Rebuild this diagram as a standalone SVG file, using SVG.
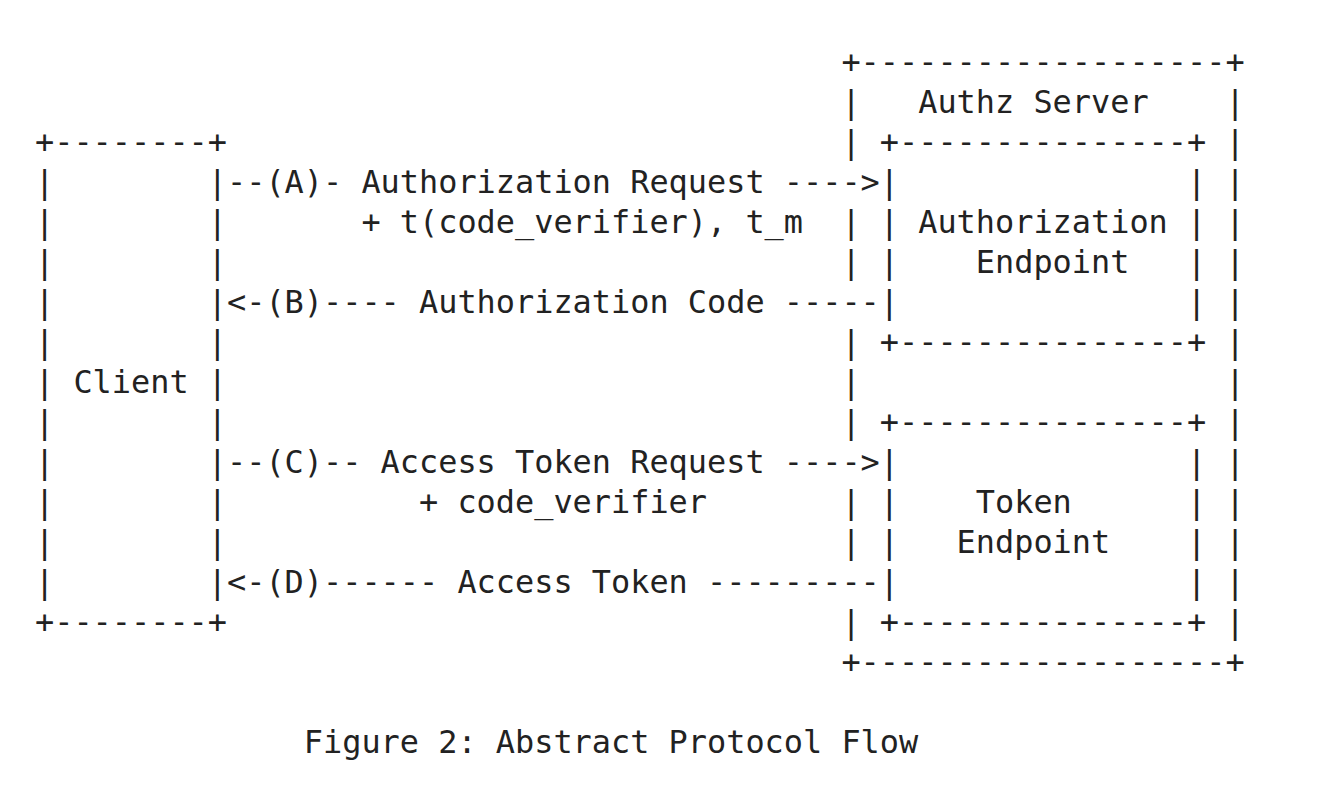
<svg xmlns="http://www.w3.org/2000/svg" width="1340" height="794" viewBox="0 0 1340 794">
<style>
.t{font-family:"DejaVu Sans Mono","Liberation Mono",monospace;font-size:31.9px;fill:#222}
</style>
<rect width="1340" height="794" fill="#fff"/>
<g id="client" class="t">
<text x="35" y="153">+--------+</text>
<text x="35" y="193">|</text><text x="207.8" y="193">|</text>
<text x="35" y="233">|</text><text x="207.8" y="233">|</text>
<text x="35" y="273">|</text><text x="207.8" y="273">|</text>
<text x="35" y="313">|</text><text x="207.8" y="313">|</text>
<text x="35" y="353">|</text><text x="207.8" y="353">|</text>
<text x="35" y="393">|</text><text x="73.4" y="393">Client</text><text x="207.8" y="393">|</text>
<text x="35" y="433">|</text><text x="207.8" y="433">|</text>
<text x="35" y="473">|</text><text x="207.8" y="473">|</text>
<text x="35" y="513">|</text><text x="207.8" y="513">|</text>
<text x="35" y="553">|</text><text x="207.8" y="553">|</text>
<text x="35" y="593">|</text><text x="207.8" y="593">|</text>
<text x="35" y="633">+--------+</text>
</g>
<g id="authz-server" class="t">
<text x="841.4" y="73">+-------------------+</text>
<text x="841.4" y="113">|</text><text x="918.2" y="113">Authz Server</text><text x="1225.4" y="113">|</text>
<text x="841.4" y="153">|</text><text x="1225.4" y="153">|</text>
<text x="1225.4" y="193">|</text>
<text x="841.4" y="233">|</text><text x="1225.4" y="233">|</text>
<text x="841.4" y="273">|</text><text x="1225.4" y="273">|</text>
<text x="1225.4" y="313">|</text>
<text x="841.4" y="353">|</text><text x="1225.4" y="353">|</text>
<text x="841.4" y="393">|</text><text x="1225.4" y="393">|</text>
<text x="841.4" y="433">|</text><text x="1225.4" y="433">|</text>
<text x="1225.4" y="473">|</text>
<text x="841.4" y="513">|</text><text x="1225.4" y="513">|</text>
<text x="841.4" y="553">|</text><text x="1225.4" y="553">|</text>
<text x="1225.4" y="593">|</text>
<text x="841.4" y="633">|</text><text x="1225.4" y="633">|</text>
<text x="841.4" y="673">+-------------------+</text>
</g>
<g id="authorization-endpoint" class="t">
<text x="879.8" y="153">+---------------+</text>
<text x="879.8" y="193">|</text><text x="1187" y="193">|</text>
<text x="879.8" y="233">|</text><text x="918.2" y="233">Authorization</text><text x="1187" y="233">|</text>
<text x="879.8" y="273">|</text><text x="975.8" y="273">Endpoint</text><text x="1187" y="273">|</text>
<text x="879.8" y="313">|</text><text x="1187" y="313">|</text>
<text x="879.8" y="353">+---------------+</text>
</g>
<g id="token-endpoint" class="t">
<text x="879.8" y="433">+---------------+</text>
<text x="879.8" y="473">|</text><text x="1187" y="473">|</text>
<text x="879.8" y="513">|</text><text x="975.8" y="513">Token</text><text x="1187" y="513">|</text>
<text x="879.8" y="553">|</text><text x="956.6" y="553">Endpoint</text><text x="1187" y="553">|</text>
<text x="879.8" y="593">|</text><text x="1187" y="593">|</text>
<text x="879.8" y="633">+---------------+</text>
</g>
<g id="connectors" class="t">
<text x="227" y="193">--(A)- Authorization Request ----&gt;</text>
<text x="361.4" y="233">+ t(code_verifier), t_m</text>
<text x="227" y="313">&lt;-(B)---- Authorization Code -----</text>
<text x="227" y="473">--(C)-- Access Token Request ----&gt;</text>
<text x="419" y="513">+ code_verifier</text>
<text x="227" y="593">&lt;-(D)------ Access Token ---------</text>
</g>
<g id="caption" class="t">
<text x="303.8" y="753">Figure 2: Abstract Protocol Flow</text>
</g>
</svg>
